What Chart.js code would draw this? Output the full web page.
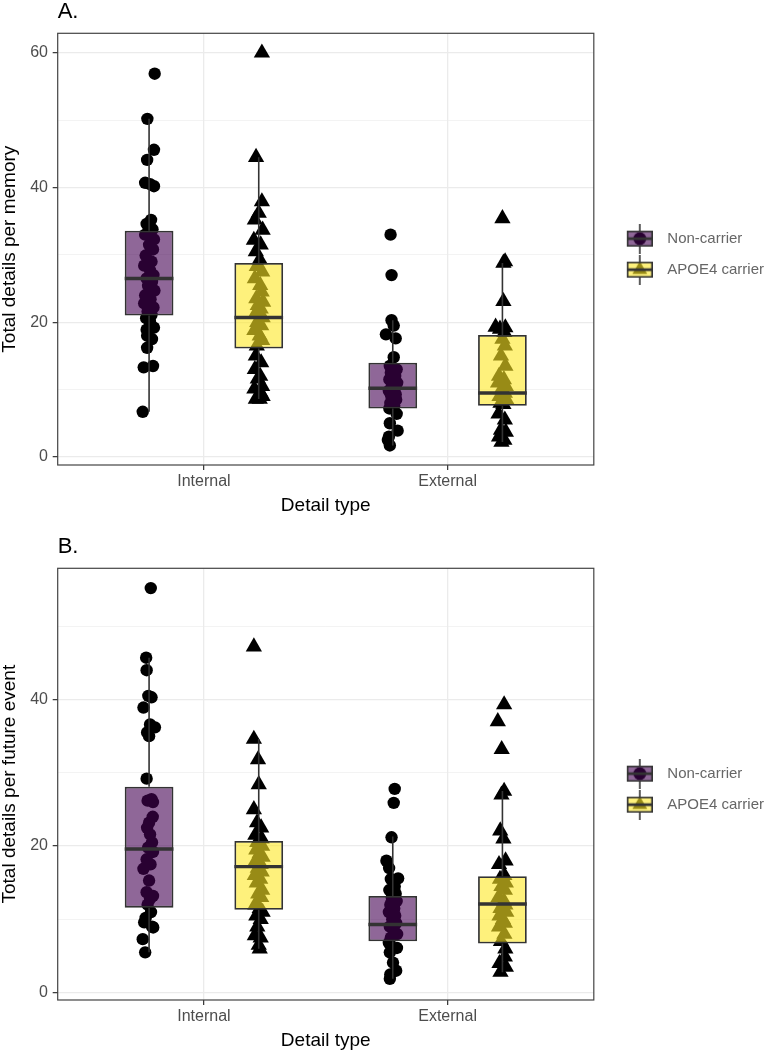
<!DOCTYPE html>
<html>
<head>
<meta charset="utf-8">
<script src="https://cdn.jsdelivr.net/npm/chart.js@4.4.1/dist/chart.umd.min.js"></script>
<style>
  html, body { margin: 0; padding: 0; background: #fff; overflow: hidden; }
  canvas { display: block; }
</style>
</head>
<body>
<canvas id="panelA" width="774" height="535"></canvas>
<canvas id="panelB" width="774" height="535"></canvas>
<script>
const categories = ['Internal', 'External'];
const groups = ['Non-carrier', 'APOE4 carrier'];

// ---- A. details per memory ----
const yTicksA = [0, 10, 20, 30, 40, 50, 60];
const memNonInt = [56.9, 50.2, 45.6, 44.1, 40.7, 40.5, 40.2, 35.2, 34.6, 33.8, 33.0, 32.3, 31.5, 30.8, 29.9, 29.0, 28.4, 27.7, 27.0, 26.5, 26.0, 25.4, 24.7, 24.0, 23.4, 22.8, 22.2, 21.6, 21.1, 20.6, 20.0, 19.2, 18.9, 18.0, 17.5, 16.2, 13.5, 13.3, 6.7];
const memNonIntJit = [.023, -.007, .020, -.008, -.016, .004, .020, .008, -.010, .014, -.016, .020, .000, .016, -.014, .010, -.020, .004, .018, -.010, .012, -.004, .022, -.016, .006, -.020, .018, -.006, .010, -.012, .004, .020, -.010, -.008, .012, -.008, .016, -.022, -.026];
const memApoInt = [60.0, 44.5, 37.9, 36.2, 35.2, 33.7, 32.2, 31.5, 30.5, 29.3, 28.3, 27.5, 26.5, 25.5, 24.5, 23.5, 23.0, 22.5, 22.0, 21.2, 20.7, 20.0, 19.5, 18.8, 18.0, 17.3, 16.5, 15.0, 14.0, 13.0, 12.0, 11.6, 10.5, 10.1, 9.5, 9.0, 8.6, 8.6];
const memApoIntJit = [.013, -.011, .013, .000, -.016, .016, -.020, .008, -.012, .004, -.008, .014, -.016, .006, .012, -.010, .018, -.004, .008, -.014, .016, -.006, .010, -.018, .004, .014, -.008, -.012, .010, -.016, .006, -.004, .014, -.018, .008, .016, -.012, .004];
const memNonExt = [33.0, 27.0, 20.3, 19.5, 18.2, 17.6, 14.8, 13.5, 13.0, 12.5, 12.0, 11.5, 11.0, 10.5, 10.2, 9.8, 9.3, 9.0, 8.5, 8.0, 7.6, 7.2, 6.4, 5.0, 3.9, 3.0, 2.5, 1.7];
const memNonExtJit = [-.009, -.005, -.005, .004, -.028, .012, .004, -.012, .016, -.008, .010, -.014, .018, -.004, .008, -.016, .012, -.006, .014, -.010, .006, -.014, .016, -.012, .020, -.016, -.020, -.012];
const memApoExt = [35.4, 29.0, 28.8, 23.1, 19.3, 19.2, 19.0, 18.5, 17.5, 16.5, 15.0, 13.5, 12.0, 11.5, 11.0, 10.5, 10.0, 9.5, 9.0, 8.5, 8.0, 7.8, 6.4, 5.5, 4.0, 3.7, 3.0, 2.5, 2.2];
const memApoExtJit = [.000, .011, .004, .004, -.028, .012, -.010, .008, .000, .010, -.006, .012, -.014, .006, -.018, .014, -.004, .010, -.012, .016, -.008, .004, -.016, .010, -.006, .014, -.014, .008, -.004];
// [lower whisker, Q1, median, Q3, upper whisker] for Internal, External
const memNonBox = [[6.7, 21.0, 26.5, 33.6, 50.2], [1.7, 7.2, 10.2, 14.0, 20.3]];
const memApoBox = [[8.6, 16.1, 20.7, 28.8, 44.5], [2.2, 7.6, 9.5, 18.1, 28.8]];

// ---- B. details per future event ----
const yTicksB = [0, 10, 20, 30, 40, 50];
const futNonInt = [55.2, 45.7, 44.0, 40.5, 40.3, 38.9, 36.6, 36.2, 35.5, 35.0, 29.2, 26.4, 26.2, 26.0, 24.0, 23.2, 22.5, 21.6, 20.5, 19.8, 19.2, 18.2, 17.5, 16.9, 15.3, 13.7, 13.2, 12.8, 12.0, 11.0, 10.2, 9.6, 9.0, 8.9, 7.3, 5.5];
const futNonIntJit = [.007, -.012, -.010, -.003, .010, -.023, .004, .024, -.008, .000, -.010, .010, -.006, .016, .015, .000, -.008, .004, .012, -.004, .016, -.010, .006, -.023, .000, -.010, .016, .004, -.006, .008, -.014, -.020, .012, .017, -.026, -.016];
const futApoInt = [47.2, 34.6, 31.8, 28.4, 25.0, 23.2, 22.5, 21.5, 21.0, 20.5, 20.0, 19.5, 19.0, 18.5, 18.0, 17.5, 17.0, 16.5, 16.0, 15.5, 15.0, 14.0, 13.5, 13.0, 12.0, 11.5, 11.0, 10.5, 10.0, 9.0, 7.8, 7.5, 6.5, 6.0];
const futApoIntJit = [-.020, -.020, -.003, .000, -.020, -.007, .010, -.014, .012, -.006, .014, -.010, .004, .016, -.012, .008, -.004, .012, -.016, .006, -.008, .014, -.002, .010, -.014, .004, .016, -.010, .008, -.006, -.016, .008, .000, .004];
const futNonExt = [27.8, 25.9, 21.2, 18.0, 17.0, 15.6, 15.5, 14.5, 14.0, 13.5, 13.0, 12.5, 12.0, 11.5, 11.0, 10.5, 10.0, 9.5, 9.0, 8.5, 8.0, 7.5, 6.8, 6.1, 5.5, 4.1, 3.0, 2.5, 1.9];
const futNonExtJit = [.008, .004, -.005, -.026, -.015, .022, -.008, .008, -.014, .012, -.004, .016, -.010, .006, -.016, .010, -.002, .014, -.012, .004, .018, -.008, -.016, .017, -.012, .001, .014, -.010, -.012];
const futApoExt = [39.3, 37.0, 33.2, 27.5, 27.0, 22.1, 21.0, 18.0, 17.5, 16.0, 15.5, 15.0, 14.5, 14.0, 13.0, 12.5, 12.0, 11.5, 11.0, 10.5, 10.0, 9.5, 9.0, 8.0, 7.0, 6.0, 4.9, 4.0, 3.5, 2.8];
const futApoExtJit = [.007, -.019, -.003, .007, -.004, -.009, .004, .013, -.014, .008, -.010, .014, -.004, .010, -.016, .006, .012, -.008, .016, -.012, .002, .010, -.014, .008, -.006, .012, .010, -.012, .014, -.008];
const futNonBox = [[5.5, 11.6, 19.6, 28.1, 45.7], [1.9, 7.0, 9.3, 13.2, 21.3]];
const futApoBox = [[6.0, 11.3, 17.2, 20.7, 34.6], [2.8, 6.7, 12.1, 15.9, 27.5]];

// ---- styling ----
Chart.defaults.font.family = '"Liberation Sans", Arial, Helvetica, sans-serif';
const FILLS = ['rgba(68,1,84,0.6)', 'rgba(253,231,37,0.6)'];
const SHAPES = ['circle', 'triangle'];
const RADII = [6.2, 9.4];
const DODGE = [-0.225, 0.225];
const BOX_W = 0.2;
const LINE = '#333333';

function makeKey(g) {
  const c = document.createElement('canvas');
  c.width = 36; c.height = 30;
  const k = c.getContext('2d');
  const cx = 23, cy = 15;
  k.fillStyle = '#000';
  k.beginPath();
  if (g === 0) {
    k.arc(cx, cy, 6.5, 0, Math.PI * 2);
  } else {
    k.moveTo(cx, cy - 8.5);
    k.lineTo(cx + 7.4, cy + 4.3);
    k.lineTo(cx - 7.4, cy + 4.3);
    k.closePath();
  }
  k.fill();
  k.fillStyle = FILLS[g];
  k.fillRect(10, 7, 26, 16);
  k.strokeStyle = LINE;
  k.lineWidth = 1.6;
  k.strokeRect(10.8, 7.8, 24.4, 14.4);
  k.beginPath();
  k.moveTo(cx, 0); k.lineTo(cx, 7);
  k.moveTo(cx, 23); k.lineTo(cx, 30);
  k.stroke();
  k.lineWidth = 2.8;
  k.beginPath();
  k.moveTo(10, cy); k.lineTo(36, cy);
  k.stroke();
  return c;
}
const keyImages = [makeKey(0), makeKey(1)];

const panelBorder = {
  id: 'panelBorder',
  afterDraw(chart) {
    const { ctx, chartArea: a } = chart;
    ctx.save();
    ctx.strokeStyle = '#444';
    ctx.lineWidth = 1.2;
    ctx.strokeRect(a.left, a.top, a.right - a.left, a.bottom - a.top);
    ctx.restore();
  }
};

function pointData(g, series) {
  const out = [];
  series.forEach(([vals, jit], c) => {
    vals.forEach((v, i) => out.push({ x: c + 1 + DODGE[g] + (jit[i] || 0), y: v }));
  });
  return out;
}

function whiskerData(boxes) {
  const out = [];
  boxes.forEach((b, g) => b.forEach((s, c) => {
    const x = c + 1 + DODGE[g];
    out.push({ x, y: s[3] }, { x, y: s[4] }, { x, y: null },
             { x, y: s[0] }, { x, y: s[1] }, { x, y: null });
  }));
  return out;
}

function medianData(boxes) {
  const out = [];
  boxes.forEach((b, g) => b.forEach((s, c) => {
    const x = c + 1 + DODGE[g];
    out.push({ x: x - BOX_W / 2, y: s[2] }, { x: x + BOX_W / 2, y: s[2] }, { x, y: null });
  }));
  return out;
}

function buildPanel(id, title, yLabel, yMin, yMax, yTicks, series, boxes) {
  const datasets = [];
  series.forEach((s, g) => datasets.push({
    type: 'scatter',
    label: groups[g],
    data: pointData(g, s),
    pointStyle: SHAPES[g],
    pointRadius: RADII[g],
    backgroundColor: '#000',
    borderWidth: 0,
    order: 5
  }));
  boxes.forEach((b, g) => datasets.push({
    type: 'bar',
    label: groups[g] + ' box',
    data: b.map((s, c) => ({ x: c + 1 + DODGE[g], y: [s[1], s[3]] })),
    backgroundColor: FILLS[g],
    borderColor: LINE,
    borderWidth: 1.8,
    borderSkipped: false,
    grouped: false,
    categoryPercentage: 1,
    barPercentage: BOX_W / (DODGE[1] - DODGE[0]),
    order: 4
  }));
  datasets.push({
    type: 'line', label: 'whiskers', data: whiskerData(boxes),
    borderColor: LINE, borderWidth: 1.6, pointRadius: 0, spanGaps: false, order: 3
  });
  datasets.push({
    type: 'line', label: 'medians', data: medianData(boxes),
    borderColor: LINE, borderWidth: 3.4, borderCapStyle: 'butt', pointRadius: 0, spanGaps: false, order: 2
  });

  return new Chart(document.getElementById(id), {
    type: 'scatter',
    data: { datasets },
    plugins: [panelBorder],
    options: {
      responsive: false,
      animation: false,
      events: [],
      layout: { padding: 0 },
      scales: {
        x: {
          type: 'linear',
          min: 0.4, max: 2.6,
          offset: false,
          afterBuildTicks: ax => { ax.ticks = categories.map((c, i) => ({ value: i + 1 })); },
          ticks: {
            autoSkip: false, maxRotation: 0, padding: 1.5,
            color: '#4D4D4D', font: { size: 16 },
            callback: v => categories[v - 1]
          },
          grid: {
            offset: false, color: '#EBEBEB', lineWidth: 1.3,
            tickLength: 5, tickColor: LINE, tickWidth: 1.2
          },
          border: { display: false },
          title: {
            display: true, text: 'Detail type', color: '#000',
            font: { size: 19, lineHeight: 1.2 }, padding: { top: 2, bottom: 18 }
          }
        },
        y: {
          type: 'linear',
          min: yMin, max: yMax,
          afterBuildTicks: ax => { ax.ticks = yTicks.map(v => ({ value: v })); },
          ticks: {
            padding: 4.7, color: '#4D4D4D', font: { size: 16 },
            callback: v => (v % 20 === 0 ? String(v) : '')
          },
          grid: {
            color: '#EBEBEB',
            lineWidth: c => (c.tick && c.tick.value % 20 === 0 ? 1.3 : 0.6),
            tickLength: 5,
            tickColor: c => (c.tick && c.tick.value % 20 === 0 ? LINE : 'rgba(0,0,0,0)'),
            tickWidth: 1.2
          },
          border: { display: false },
          title: {
            display: true, text: yLabel, color: '#000',
            font: { size: 19, lineHeight: 1 }, padding: { top: 0, bottom: 6.5 }
          }
        }
      },
      plugins: {
        tooltip: { enabled: false },
        title: {
          display: true, text: title, align: 'start', fullSize: false, color: '#000',
          font: { size: 22, weight: 'normal', lineHeight: 1 }, padding: { top: 1, bottom: 10.3 }
        },
        legend: {
          position: 'right',
          align: 'center',
          fullSize: false,
          onClick: null,
          title: { display: true, text: '', font: { size: 10, lineHeight: 1 }, padding: 0 },
          labels: {
            usePointStyle: true,
            pointStyleWidth: 50,
            padding: 16,
            color: '#111',
            font: { size: 15 },
            generateLabels: () => groups.map((g, i) => ({
              text: g, pointStyle: keyImages[i], fillStyle: 'rgba(0,0,0,0)',
              strokeStyle: 'rgba(0,0,0,0)', lineWidth: 0, hidden: false, datasetIndex: i
            }))
          }
        }
      }
    }
  });
}

buildPanel('panelA', 'A.', 'Total details per memory', -1.2, 62.9, yTicksA,
  [[[memNonInt, memNonIntJit], [memNonExt, memNonExtJit]],
   [[memApoInt, memApoIntJit], [memApoExt, memApoExtJit]]],
  [memNonBox, memApoBox]);

buildPanel('panelB', 'B.', 'Total details per future event', -1.0, 57.9, yTicksB,
  [[[futNonInt, futNonIntJit], [futNonExt, futNonExtJit]],
   [[futApoInt, futApoIntJit], [futApoExt, futApoExtJit]]],
  [futNonBox, futApoBox]);
</script>
</body>
</html>
